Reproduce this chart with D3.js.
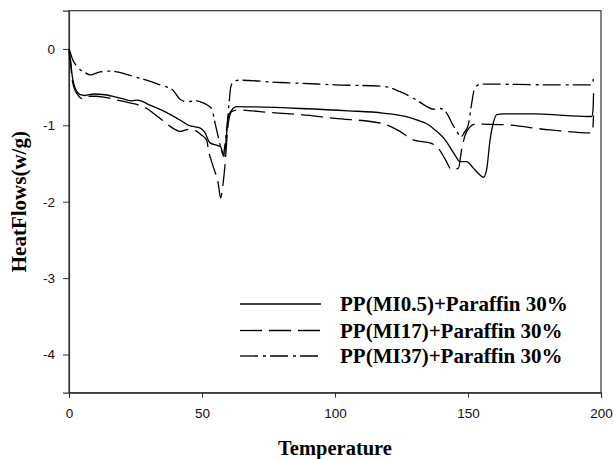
<!DOCTYPE html>
<html><head><meta charset="utf-8">
<script src="https://cdn.jsdelivr.net/npm/d3@7"></script>
<style>
html,body{margin:0;padding:0;background:#fff;}
svg{display:block;}
</style></head>
<body>
<svg id="chart" width="614" height="459"></svg>
<script>
// ---- data ----
const seriesNames = ["PP(MI0.5)+Paraffin 30%", "PP(MI17)+Paraffin 30%", "PP(MI37)+Paraffin 30%"];

const tempMI05 = [0, 0.6, 1.2, 2, 3, 4.2, 6, 9.4, 13.5, 20, 23.7, 25.5, 27, 30, 36, 41.7, 45, 47.5, 49.5, 51, 53, 55.5, 57, 58.3, 59.3, 59.9, 61.2, 63, 70, 86.8, 105, 118, 126, 130.7, 134.5, 137.6, 141.4, 145.1, 147, 149.5, 152, 154.5, 155.8, 157, 158.3, 159.5, 160.8, 163.3, 175, 186, 196.5, 197, 197.2];
const flowMI05 = [-0.02, -0.15, -0.35, -0.48, -0.56, -0.6, -0.61, -0.59, -0.6, -0.65, -0.68, -0.67, -0.68, -0.73, -0.82, -0.93, -1.0, -1.02, -1.04, -1.09, -1.23, -1.26, -1.28, -1.41, -1.1, -0.89, -0.8, -0.755, -0.76, -0.78, -0.81, -0.84, -0.88, -0.93, -0.98, -1.06, -1.19, -1.39, -1.475, -1.475, -1.56, -1.65, -1.68, -1.58, -1.19, -0.97, -0.86, -0.85, -0.85, -0.87, -0.885, -0.8, -0.58];

const tempMI17 = [0, 0.6, 1.2, 2, 2.9, 4.8, 6.7, 10, 13, 18, 22, 29.7, 31.6, 35, 39.1, 41.7, 44, 45.5, 48, 49.9, 51.8, 52.4, 54.2, 56.1, 57, 57.8, 58.6, 59.9, 61.2, 63, 75, 86.8, 100, 116.9, 124.4, 129.4, 132, 135.7, 139.5, 141.5, 143.9, 146.4, 147.6, 148.9, 150.8, 152.6, 162, 180.8, 195.9, 196.8, 197.2];
const flowMI17 = [-0.03, -0.2, -0.4, -0.52, -0.58, -0.65, -0.62, -0.62, -0.63, -0.67, -0.7, -0.79, -0.84, -0.93, -1.04, -1.08, -1.06, -1.05, -1.08, -1.13, -1.2, -1.32, -1.54, -1.76, -1.95, -1.8, -1.54, -0.97, -0.82, -0.8, -0.83, -0.86, -0.91, -0.97, -1.08, -1.19, -1.21, -1.23, -1.33, -1.45, -1.58, -1.56, -1.32, -1.13, -1.02, -0.985, -0.99, -1.06, -1.1, -1.08, -0.87];

const tempMI37 = [0, 0.5, 1.5, 2.8, 4.1, 6, 7.9, 11.7, 15.4, 24.2, 34.2, 39.1, 41.7, 44.2, 48, 49.2, 53.6, 54.9, 56.1, 57, 58, 58.6, 59.5, 60.2, 60.8, 62, 64, 79.3, 86.8, 100, 118.2, 124.4, 130.7, 134.5, 137, 139.5, 142, 143.9, 145.8, 147.4, 148.5, 150.1, 151.4, 152.3, 153.9, 157, 179.6, 195.9, 196.8, 197.2];
const flowMI37 = [0.0, -0.05, -0.15, -0.22, -0.27, -0.31, -0.34, -0.3, -0.29, -0.36, -0.47, -0.54, -0.66, -0.69, -0.68, -0.69, -0.78, -0.97, -1.15, -1.28, -1.39, -1.26, -0.97, -0.7, -0.5, -0.42, -0.41, -0.44, -0.45, -0.47, -0.49, -0.56, -0.67, -0.755, -0.79, -0.78, -0.84, -0.97, -1.08, -1.15, -1.1, -0.995, -0.71, -0.54, -0.47, -0.46, -0.47, -0.47, -0.47, -0.34];

const xTicks = [0, 50, 100, 150, 200];
const yTicks = [0, -1, -2, -3, -4];
const xTitle = "Temperature";
const yTitle = "HeatFlows(w/g)";

// ---- build ----
const temps = [tempMI05, tempMI17, tempMI37];
const flows = [flowMI05, flowMI17, flowMI37];
const dashes = [null, "22,7", "18,5,3,4"];
const legendDashes = [null, "22,7", "18,5,3,4"];

const svg = d3.select("#chart");
const L = 69, R = 601, T = 10.7, B = 392.7;

const x = d3.scaleLinear().domain([0, 200]).range([L, R]);
const y = d3.scaleLinear().domain([-4.5, 0.5]).range([B, T]);

const sansFont = "'Liberation Sans', Arial, sans-serif";
const serifFont = "'Liberation Serif', 'Times New Roman', serif";

// frame
svg.append("rect").attr("x", L).attr("y", T).attr("width", R - L).attr("height", B - T)
  .attr("fill", "none").attr("stroke", "#333").attr("stroke-width", 1.2);

// axes
const xAxis = svg.append("g").attr("transform", `translate(0,${B})`)
  .call(d3.axisBottom(x).tickValues(xTicks).tickFormat(d3.format("d")).tickSizeOuter(0).tickSize(5).tickPadding(11));
const yAxis = svg.append("g").attr("transform", `translate(${L},0)`)
  .call(d3.axisLeft(y).tickValues(yTicks).tickFormat(d => d3.format("d")(d).replace("\u2212", "-")).tickSizeOuter(0).tickSize(6).tickPadding(8));
[xAxis, yAxis].forEach(a => {
  a.select(".domain").attr("stroke", "#333").attr("stroke-width", 1.2);
  a.selectAll(".tick line").attr("stroke", "#333").attr("stroke-width", 1);
  a.selectAll(".tick text").attr("font-family", sansFont).attr("font-size", 13.5).attr("fill", "#111");
});

// lines
const line = d3.line().x(d => x(d[0])).y(d => y(d[1])).curve(d3.curveMonotoneX);
temps.forEach((t, i) => {
  const pts = t.map((v, j) => [v, flows[i][j]]);
  svg.append("path").datum(pts).attr("d", line)
    .attr("fill", "none").attr("stroke", "#000").attr("stroke-width", 1.3)
    .attr("stroke-dasharray", dashes[i]);
});

// legend
const legY = [304, 330.5, 356];
seriesNames.forEach((name, i) => {
  svg.append("line").attr("x1", 240).attr("x2", 321).attr("y1", legY[i]).attr("y2", legY[i])
    .attr("stroke", "#000").attr("stroke-width", 1.3).attr("stroke-dasharray", legendDashes[i]);
  svg.append("text").attr("x", 340).attr("y", legY[i] + 7)
    .attr("font-family", serifFont).attr("font-weight", "bold").attr("font-size", 21)
    .attr("fill", "#000").text(name);
});

// titles
svg.append("text").attr("x", (L + R) / 2).attr("y", 455).attr("text-anchor", "middle")
  .attr("font-family", serifFont).attr("font-weight", "bold").attr("font-size", 20.5).text(xTitle);
svg.append("text").attr("transform", `translate(26,${(T + B) / 2}) rotate(-90)`).attr("text-anchor", "middle")
  .attr("font-family", serifFont).attr("font-weight", "bold").attr("font-size", 21).text(yTitle);
</script>
</body></html>
